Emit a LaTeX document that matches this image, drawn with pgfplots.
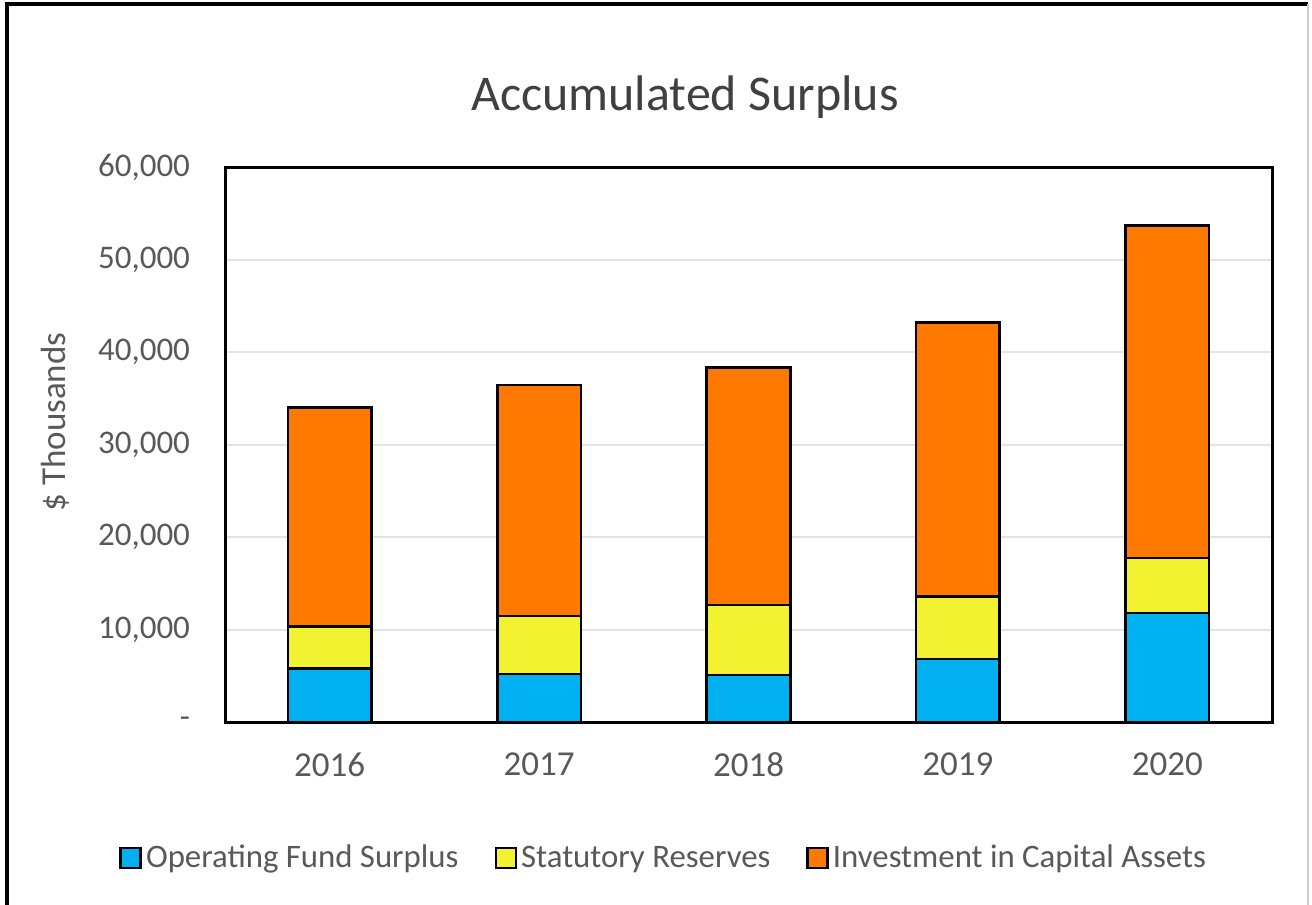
\documentclass[border=0pt]{standalone}
\usepackage{fontspec}
\setmainfont{Carlito}
\usepackage{pgfplots}
\pgfplotsset{compat=1.18}

\definecolor{opblue}{HTML}{00B0F0}
\definecolor{resyellow}{HTML}{F2F231}
\definecolor{caporange}{HTML}{FF7800}
\definecolor{labelgray}{HTML}{595959}
\definecolor{titlegray}{HTML}{404040}

\pgfplotsset{
  sq legend/.style={legend image code/.code={%
    \draw[##1, draw=black, line width=1.3pt] (0pt,-5pt) rectangle (10pt,5pt);}},
}

\begin{document}
\begin{tikzpicture}
\path[use as bounding box] (0,0) rectangle (656pt,452.5pt);
\fill[white] (0,0) rectangle (656pt,452.5pt);
% chart frame
\draw[line width=2.2pt] (3.5pt,0) -- (3.5pt,450.5pt) -- (654pt,450.5pt);
\draw[gray!40, line width=0.8pt] (654pt,450.5pt) -- (654pt,0);

\node[font=\fontsize{25}{30}\selectfont, text=titlegray] at (342.5pt,404pt) {Accumulated Surplus};
\node[rotate=90, font=\fontsize{17.5}{21}\selectfont, text=labelgray] at (27.5pt,241.5pt) {\$ Thousands};

\begin{axis}[
  at={(112.5pt,91.5pt)}, anchor=south west,
  scale only axis, width=523.5pt, height=277.5pt,
  ybar stacked, bar width=0.4,
  xmin=-0.5, xmax=4.5, ymin=0, ymax=60000,
  scaled y ticks=false,
  xtick={0,1,2,3,4},
  xticklabels={2016,2017,2018,2019,2020},
  ytick={0,10000,20000,30000,40000,50000,60000},
  yticklabels={-,{10,000},{20,000},{30,000},{40,000},{50,000},{60,000}},
  ymajorgrids, grid style={line width=1pt, color=gray!22},
  axis line style={line width=1.5pt, black},
  major tick length=0pt,
  tick label style={font=\fontsize{16.5}{20}\selectfont, text=labelgray},
  yticklabel style={xshift=-14pt},
  xticklabel style={yshift=-12pt, font=\fontsize{17.5}{21}\selectfont},
  legend columns=3,
  legend style={at={(0.42,-0.245)}, anchor=center, draw=none, fill=none,
    font=\fontsize{16.4}{20}\selectfont, text=labelgray,
    /tikz/every even column/.append style={column sep=16pt}},
  every axis plot/.append style={draw=black, line width=1.3pt},
]
\addplot[fill=opblue, sq legend] coordinates {(0,5760) (1,5190) (2,5080) (3,6830) (4,11770)};
\addplot[fill=resyellow, sq legend] coordinates {(0,4540) (1,6270) (2,7570) (3,6770) (4,5940)};
\addplot[fill=caporange, sq legend] coordinates {(0,23720) (1,24970) (2,25650) (3,29620) (4,35950)};
\legend{Operating Fund Surplus, Statutory Reserves, Investment in Capital Assets}
\end{axis}
\end{tikzpicture}
\end{document}
